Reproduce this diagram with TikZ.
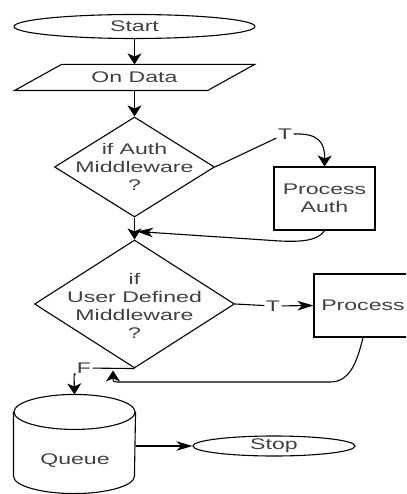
\documentclass[tikz,border=0pt]{standalone}
\usepackage{fontspec}
\newfontfamily\dio{Liberation Sans}[FakeStretch=1.5]
\usetikzlibrary{arrows.meta,shapes.geometric,calc}
\begin{document}
\begin{tikzpicture}[x=1pt,y=-1pt,line width=1.1pt,
  every node/.style={font=\dio\fontsize{15.4}{18}\selectfont,text=black!75},
  varr/.style={-{Stealth[length=11pt,width=14pt,inset=3pt]}},
  harr/.style={-{Stealth[length=16pt,width=9.5pt,inset=4.5pt]}},
  lbl/.style={fill=white,inner sep=1pt},
  box/.style={draw,rectangle,inner sep=0pt,align=center},
  term/.style={draw,ellipse,inner sep=0pt},
  dia/.style={draw,diamond,inner sep=0pt},
  ghost/.style={rectangle,inner sep=0pt}]
\useasboundingbox (0,0) rectangle (406,494);
\clip (0,0) rectangle (406,494);
% nodes
\node[term,minimum width=241pt,minimum height=24pt] (start) at (134.5,26.5) {Start};
\node[ghost,minimum width=239pt,minimum height=25pt] (od) at (134.5,77.5) {On Data};
\draw ([xshift=47pt]od.north west) -- (od.north east) -- ([xshift=-47pt]od.south east) -- (od.south west) -- cycle;
\node[dia,minimum width=160pt,minimum height=100pt] (d1) at (134.5,167) {};
\node[align=center] (d1t) at (d1) {if Auth\\Middleware\\?};
\node[box,minimum width=101pt,minimum height=63pt] (pa) at (324.5,198.5) {Process\\Auth};
\node[dia,minimum width=200pt,minimum height=128pt] (d2) at (134.5,304) {};
\node[align=center] (d2t) at (134.5,306) {if\\User Defined\\Middleware\\?};
\node[box,minimum width=98pt,minimum height=63pt] (proc) at (363,305.5) {Process};
\node[ghost,minimum width=121pt,minimum height=98pt] (q) at (74.5,444) {};
\draw ([yshift=-17.5pt]q.north) ellipse [x radius=60.5pt,y radius=17.5pt];
\draw ([yshift=-17.5pt]q.north west) -- ([yshift=17.5pt]q.south west)
  arc[start angle=180,end angle=360,x radius=60.5pt,y radius=17.5pt] -- ([yshift=-17.5pt]q.north east);
\node (qt) at (75,461) {Queue};
\node[term,minimum width=162pt,minimum height=20pt] (stop) at (274,446) {Stop};
% labels and coordinates
\node[lbl] (t1) at (285,134) {T};
\node[lbl] (t2) at (273,306) {T};
\node[lbl] (f1) at (84,368) {F};
\coordinate (m1) at (137,231.5);
\coordinate (m2) at (113,370.5);
% connectors
\draw[varr] (start) -- (od);
\draw[varr] (od) -- (d1);
\draw (d1.east) -- (t1);
\draw[varr] (t1.east) .. controls (318,133) and (325,142) .. (pa.north);
\draw[harr] (pa.south) .. controls (318,241) and (300,242) .. (280,241) -- (m1);
\draw[varr] (d1.south) -- (d2.north);
\draw (d2.east) -- (t2);
\draw[harr] (t2) -- (proc.west);
\draw (d2.south) -- (f1);
\draw[varr] (f1.south west) .. controls (74,373) .. (q.north);
\draw[varr] (proc.south) .. controls (357,362) and (350,382) .. (330,382) -- (122,382) .. controls (113,382) .. (m2);
\draw[harr] (q.east|-stop.west) -- (stop.west);
\end{tikzpicture}
\end{document}
